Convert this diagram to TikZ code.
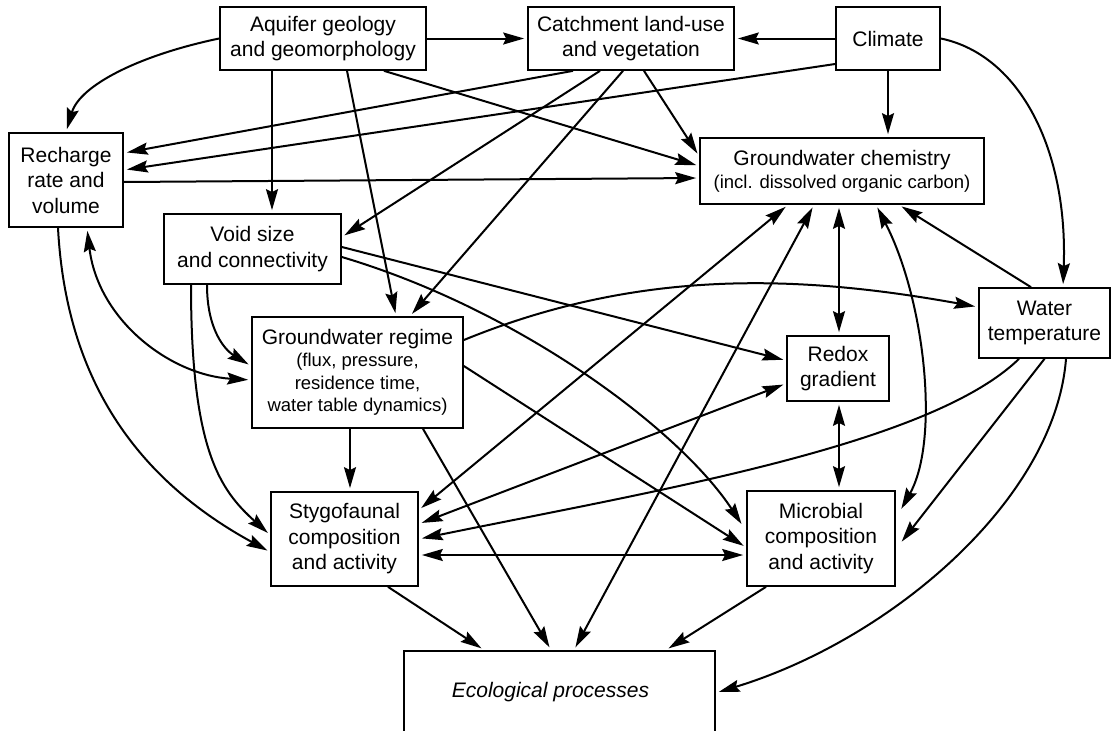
\documentclass[tikz,border=0pt]{standalone}
\usepackage{fontspec}
\setmainfont{Liberation Sans}
\usepackage{tikz}
\usetikzlibrary{arrows.meta,positioning}
\newcommand{\bigtext}{\fontsize{21}{25.5}\selectfont}
\newcommand{\smalltext}{\fontsize{18.5}{22.5}\selectfont}
\tikzset{
  box/.style={draw, line width=1.7pt, align=center, inner sep=0pt, font=\bigtext},
  link/.style={-{Stealth[length=21pt,width=12pt,inset=3pt]}, line width=2pt, shorten >=3pt},
  twoway/.style={{Stealth[length=21pt,width=12pt,inset=3pt]}-{Stealth[length=21pt,width=12pt,inset=3pt]}, line width=2pt, shorten >=3pt, shorten <=3pt},
}

\begin{document}
\begin{tikzpicture}[x=1pt, y=-1pt]
\useasboundingbox (0,0) rectangle (1112,731);
\clip (0,0) rectangle (1112,731);
% boxes
\node (geo) [box, minimum width=206pt, minimum height=63pt] at (323,38.5) {Aquifer geology\\and geomorphology};
\node (land) [box, minimum width=206pt, minimum height=63pt] at (631,38.5) {Catchment land-use\\and vegetation};
\node (climate) [box, minimum width=104pt, minimum height=63pt] at (888,38.5) {Climate};
\node (recharge) [box, minimum width=114pt, minimum height=94pt] at (66,180) {Recharge\\rate and\\volume};
\node (chem) [box, minimum width=284pt, minimum height=66pt] at (842,171) {Groundwater chemistry\\[-2.5pt]{\smalltext (incl. dissolved organic carbon)}};
\node (void) [box, minimum width=177pt, minimum height=70pt] at (252.5,249) {Void size\\and connectivity};
\node (regime) [box, minimum width=211pt, minimum height=111pt] at (357.5,372.5) {Groundwater regime\\[-3pt]{\smalltext (flux, pressure,}\\[-3pt]{\smalltext residence time,}\\[-3pt]{\smalltext water table dynamics)}};
\node (redox) [box, minimum width=102pt, minimum height=65pt] at (838,368.5) {Redox\\gradient};
\node (wtemp) [box, minimum width=131pt, minimum height=70pt] at (1044.5,323) {Water\\temperature};
\node (stygo) [box, minimum width=147pt, minimum height=94pt] at (344.5,539) {Stygofaunal\\composition\\and activity};
\node (microbe) [box, minimum width=148pt, minimum height=95pt] at (821,538.5) {Microbial\\composition\\and activity};
\node (eco) [box, anchor=north, minimum width=311pt, text height=47pt, text depth=60pt, font=\bigtext\itshape] at (559.5,650) {Ecological processes\hspace*{18pt}};
%
% from the top row
\draw[link] (geo.east) -- (land.west);
\draw[link] (climate.west) -- (land.east);
\draw[link] (geo.west) .. controls (140,55) and (80,85) .. (recharge.north);
\draw[link] ([xshift=-51pt]geo.south) -- ([xshift=19.5pt]void.north);
\draw[link] ([xshift=24pt]geo.south) -- ([xshift=38.5pt]regime.north);
\draw[link] ([xshift=61pt]geo.south) -- ([yshift=5pt]chem.west);
\draw[link] ([xshift=-58pt]land.south) -- ([yshift=27pt]recharge.east);
\draw[link] ([xshift=-31pt]land.south) -- ([yshift=12pt]void.east);
\draw[link] ([xshift=-8pt]land.south) -- ([xshift=52.5pt]regime.north);
\draw[link] ([xshift=13pt]land.south) -- ([yshift=-19pt]chem.north west);
\draw[link] ([yshift=-25.5pt]climate.west) -- ([yshift=10pt]recharge.east);
\draw[link] (climate.south) -- ([xshift=46pt]chem.north);
\draw[link] (climate.east) .. controls (1020,55) and (1068,150) .. ([xshift=18.5pt]wtemp.north);
%
% recharge and void
\draw[link] ([yshift=-2pt]recharge.east) -- ([yshift=-7pt]chem.west);
\draw[twoway] ([xshift=21pt]recharge.south) .. controls (98,320) and (170,375) .. ([yshift=-7.5pt]regime.west);
\draw[link] ([xshift=-8pt]recharge.south) .. controls (65,360) and (120,470) .. ([yshift=-13pt]stygo.west);
\draw[link] ([yshift=2pt]void.east) -- ([yshift=8pt]redox.west);
\draw[link] ([yshift=-8pt]void.east) .. controls (520,310) and (680,430) .. ([xshift=-3pt,yshift=12pt]microbe.west);
\draw[link] ([xshift=-45.5pt]void.south) .. controls (207,330) and (225,350) .. ([yshift=6.5pt]regime.west);
\draw[link] ([xshift=-61.5pt]void.south) .. controls (191,450) and (220,490) .. ([yshift=4pt]stygo.west);
%
% groundwater regime
\draw[link] ([yshift=32.5pt]regime.east) .. controls (640,268) and (800,275) .. ([yshift=16pt]wtemp.west);
\draw[link] ([yshift=6.5pt]regime.east) -- ([yshift=-9pt]microbe.west);
\draw[link] ([xshift=-7.5pt]regime.south) -- ([xshift=5.5pt]stygo.north);
\draw[link] ([xshift=65.5pt]regime.south) -- ([xshift=-8.5pt]eco.north);
%
% chemistry, redox, temperature
\draw[twoway] ([xshift=-54pt]chem.south) -- ([yshift=29pt]stygo.east);
\draw[twoway] ([xshift=-28pt]chem.south) -- ([xshift=14.5pt]eco.north);
\draw[twoway] ([xshift=-3pt]chem.south) -- ([xshift=1pt]redox.north);
\draw[twoway] ([xshift=34pt]chem.south) .. controls (925,300) and (940,440) .. ([xshift=4pt,yshift=27pt]microbe.east);
\draw[twoway] ([xshift=1pt]redox.south) -- ([xshift=18pt]microbe.north);
\draw[twoway] ([yshift=15pt]stygo.east) -- ([yshift=-15pt]redox.west);
\draw[link] ([xshift=-13.5pt]wtemp.north) -- ([xshift=57pt]chem.south);
\draw[link] (wtemp.south) -- ([xshift=4pt,yshift=-5.5pt]microbe.east);
\draw[link] ([xshift=-25.5pt]wtemp.south) .. controls (930,445) and (660,490) .. (stygo.east);
\draw[link] ([xshift=21.5pt]wtemp.south) .. controls (1055,500) and (890,640) .. ([yshift=11.5pt]eco.east);
%
% bottom row
\draw[twoway] ([yshift=-16pt]stygo.east) -- ([yshift=-16.5pt]microbe.west);
\draw[link] ([xshift=43.5pt]stygo.south) -- ([xshift=-75.5pt]eco.north);
\draw[link] ([xshift=-55pt]microbe.south) -- ([xshift=106.5pt]eco.north);
\end{tikzpicture}
\end{document}
